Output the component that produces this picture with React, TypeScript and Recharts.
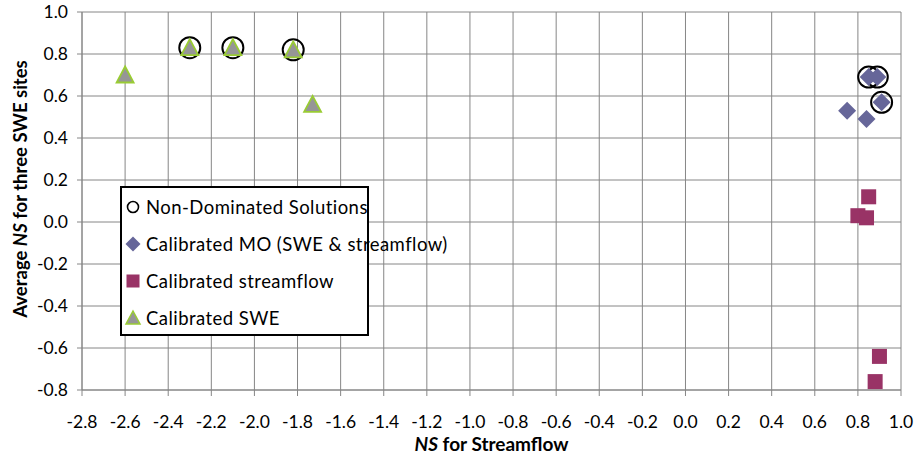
import React from 'react';
import { ScatterChart, Scatter, XAxis, YAxis, CartesianGrid, Legend, Label } from 'recharts';

const xTicks = [-2.8, -2.6, -2.4, -2.2, -2.0, -1.8, -1.6, -1.4, -1.2, -1.0, -0.8, -0.6, -0.4, -0.2, 0.0, 0.2, 0.4, 0.6, 0.8, 1.0];
const yTicks = [-0.8, -0.6, -0.4, -0.2, 0.0, 0.2, 0.4, 0.6, 0.8, 1.0];

const nonDominatedX = [-2.30, -2.10, -1.82, 0.85, 0.89, 0.91];
const nonDominatedY = [0.83, 0.83, 0.82, 0.69, 0.69, 0.57];
const moX = [0.85, 0.89, 0.91, 0.75, 0.84];
const moY = [0.69, 0.69, 0.57, 0.53, 0.49];
const flowX = [0.85, 0.80, 0.84, 0.90, 0.88];
const flowY = [0.12, 0.03, 0.02, -0.64, -0.76];
const sweX = [-2.60, -2.30, -2.10, -1.82, -1.73];
const sweY = [0.70, 0.83, 0.83, 0.82, 0.56];

const seriesNames = ['Non-Dominated Solutions', 'Calibrated MO (SWE & streamflow)', 'Calibrated streamflow', 'Calibrated SWE'];

const toPoints = (xs: number[], ys: number[]) => xs.map((x, i) => ({ x, y: ys[i] }));

const nonDominated = toPoints(nonDominatedX, nonDominatedY);
const mo = toPoints(moX, moY);
const flow = toPoints(flowX, flowY);
const swe = toPoints(sweX, sweY);

const FONT = 'Lato, "Open Sans", sans-serif';
const GRID = '#868686';
const MO_COLOR = '#666699';
const FLOW_COLOR = '#993366';
const SWE_FILL = '#969696';
const SWE_STROKE = '#99CC33';

const CircleShape = (p: any) => (
  <circle cx={p.cx} cy={p.cy} r={10.5} fill="none" stroke="#000" strokeWidth={2} />
);
const DiamondShape = (p: any) => {
  const { cx, cy } = p;
  const r = 9;
  return <polygon points={`${cx},${cy - r} ${cx + r},${cy} ${cx},${cy + r} ${cx - r},${cy}`} fill={MO_COLOR} />;
};
const SquareShape = (p: any) => (
  <rect x={p.cx - 7.5} y={p.cy - 7.5} width={15} height={15} fill={FLOW_COLOR} />
);
const TriangleShape = (p: any) => {
  const { cx, cy } = p;
  return (
    <polygon
      points={`${cx},${cy - 8.5} ${cx + 8.5},${cy + 7.5} ${cx - 8.5},${cy + 7.5}`}
      fill={SWE_FILL}
      stroke={SWE_STROKE}
      strokeWidth={1.8}
      strokeLinejoin="miter"
    />
  );
};

const legendIcons = [
  <circle cx={10} cy={10} r={5.5} fill="none" stroke="#000" strokeWidth={1.6} />,
  <polygon points="10,2.5 17.5,10 10,17.5 2.5,10" fill={MO_COLOR} />,
  <rect x={3.5} y={3.5} width={13} height={13} fill={FLOW_COLOR} />,
  <polygon points="10,3 17,16 3,16" fill={SWE_FILL} stroke={SWE_STROKE} strokeWidth={1.5} />,
];

const LegendContent = () => (
  <div
    style={{
      width: 249,
      height: 150,
      boxSizing: 'border-box',
      border: '2px solid #000',
      background: '#fff',
      fontFamily: FONT,
      fontSize: 18.5,
      color: '#000',
      paddingTop: 1,
    }}
  >
    {seriesNames.map((name, i) => (
      <div key={name} style={{ display: 'flex', alignItems: 'center', height: 36.8, whiteSpace: 'nowrap' }}>
        <svg width={20} height={20} style={{ marginLeft: 1, marginRight: 3, flex: 'none' }}>
          {legendIcons[i]}
        </svg>
        <span style={{ letterSpacing: 0.45 }}>{name}</span>
      </div>
    ))}
  </div>
);

const YTitle = (props: any) => {
  const vb = props.viewBox || {};
  const cy = (vb.y ?? 12) + (vb.height ?? 378) / 2 - 12;
  const x = 20;
  return (
    <text
      x={x}
      y={cy}
      transform={`rotate(-90, ${x}, ${cy})`}
      textAnchor="middle"
      dominantBaseline="central"
      fontFamily={FONT}
      fontWeight="bold"
      fontSize={18.5}
      fill="#000"
    >
      Average <tspan fontStyle="italic">NS</tspan> for three SWE sites
    </text>
  );
};

const XTitle = (props: any) => {
  const vb = props.viewBox || {};
  const cx = (vb.x ?? 82) + (vb.width ?? 819) / 2;
  return (
    <text x={cx} y={451} textAnchor="middle" fontFamily={FONT} fontWeight="bold" fontSize={19} fill="#000">
      <tspan fontStyle="italic">NS</tspan> for Streamflow
    </text>
  );
};

export default function App() {
  return (
    <div style={{ position: 'absolute', left: 0, top: 0, width: 914, height: 455, background: '#fff' }}>
      <ScatterChart width={914} height={455} margin={{ top: 12, right: 13, bottom: 0, left: 0 }}>
        <CartesianGrid stroke={GRID} strokeWidth={1} />
        <XAxis
          type="number"
          dataKey="x"
          domain={[-2.8, 1.0]}
          ticks={xTicks}
          interval={0}
          tickFormatter={(v: number) => v.toFixed(1)}
          height={65}
          stroke={GRID}
          tickSize={6}
          tickMargin={20}
          tick={{ fill: '#000', fontFamily: FONT, fontSize: 17.5 }}
          allowDataOverflow
        >
          <Label content={XTitle} />
        </XAxis>
        <YAxis
          type="number"
          dataKey="y"
          domain={[-0.8, 1.0]}
          ticks={yTicks}
          interval={0}
          tickFormatter={(v: number) => v.toFixed(1)}
          width={82}
          stroke={GRID}
          tickSize={5}
          tickMargin={9}
          tick={{ fill: '#000', fontFamily: FONT, fontSize: 17.5 }}
          allowDataOverflow
        >
          <Label content={YTitle} />
        </YAxis>
        <Legend
          layout="vertical"
          align="center"
          verticalAlign="middle"
          content={LegendContent}
          wrapperStyle={{ left: 120, top: 186, width: 249, height: 150 }}
        />
        <Scatter name={seriesNames[0]} data={nonDominated} shape={CircleShape} isAnimationActive={false} />
        <Scatter name={seriesNames[1]} data={mo} shape={DiamondShape} isAnimationActive={false} />
        <Scatter name={seriesNames[2]} data={flow} shape={SquareShape} isAnimationActive={false} />
        <Scatter name={seriesNames[3]} data={swe} shape={TriangleShape} isAnimationActive={false} />
      </ScatterChart>
    </div>
  );
}
